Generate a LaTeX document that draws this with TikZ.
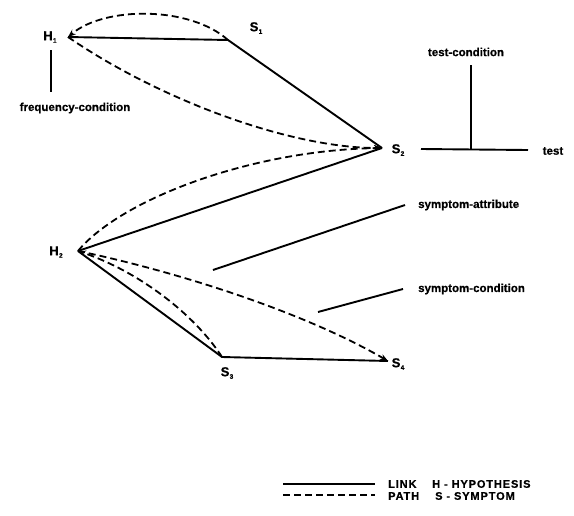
\documentclass[tikz,border=0pt]{standalone}
\usepackage{fontspec}
\setmainfont{Liberation Sans}
\usepackage{tikz}
\usetikzlibrary{arrows.meta}
\newcommand{\vlbl}[2]{\textbf{#1}\kern0.3pt\raisebox{-2.5pt}{\fontsize{6.5}{6}\selectfont\bfseries #2}}

\begin{document}
\begin{tikzpicture}[x=1pt, y=-1pt,
    link/.style={line width=1.9pt},
    path/.style={line width=1.8pt, dash pattern=on 7pt off 4pt},
    tip/.style={-{Stealth[length=8pt,width=6pt]}},
    lbl/.style={font=\fontsize{13}{13}\selectfont\bfseries\addfontfeature{FakeBold=0.6}, inner sep=0pt},
    txt/.style={font=\fontsize{11.5}{12}\selectfont\bfseries\addfontfeature{FakeBold=0.6}, inner sep=0pt},
    key/.style={font=\fontsize{11}{12}\selectfont\bfseries\addfontfeature{LetterSpace=8,FakeBold=0.6}, inner sep=0pt, anchor=west}]
\useasboundingbox (0,0) rectangle (574,515);

% Hypotheses and symptoms
\coordinate (h1) at (68,37);
\coordinate (s1) at (228,40);
\coordinate (s2) at (382,148);
\coordinate (h2) at (78,251);
\coordinate (s3) at (222,357);
\coordinate (s4) at (388,361);

\node[lbl] (h1l) at (50,37) {\vlbl{H}{1}};
\node[lbl] (s1l) at (256,28) {\vlbl{S}{1}};
\node[lbl] (s2l) at (398,150) {\vlbl{S}{2}};
\node[lbl] (h2l) at (56,252) {\vlbl{H}{2}};
\node[lbl] (s3l) at (227,373) {\vlbl{S}{3}};
\node[lbl] (s4l) at (398,364) {\vlbl{S}{4}};

% Links
\draw[link] (h1) -- (s1) -- (s2);
\draw[link] (h2) -- (s2);
\draw[link] (h2) -- (s3) -- (s4);

% Paths
\draw[path, tip] (s1) .. controls (190,6) and (105,6) .. (h1);
\draw[path, tip] (h1) .. controls (160,100) and (290,148) .. (s2);
\draw[path, tip] (h2) .. controls (120,200) and (250,150) .. (s2);
\draw[path, tip] (s3) .. controls (195,315) and (140,272) .. (h2);
\draw[path, tip] (h2) .. controls (170,270) and (300,310) .. (s4);

% Conditions and attributes
\node[txt] (freq) at (75,108) {frequency-condition};
\coordinate (freqtop) at (51,50);
\coordinate (freqbot) at (51,92);
\draw[link] (freqtop) -- (freqbot);

\node[txt] (testcond) at (466,52) {test-condition};
\node[txt] (test) at (553,151) {test};
\coordinate (tl) at (421,149);
\coordinate (tr) at (528,150);
\coordinate (tm) at (471,149);
\coordinate (tt) at (471,65);
\draw[link] (tl) -- (tr);
\draw[link] (tm) -- (tt);

\node[txt, anchor=west] (sattr) at (418,205) {symptom-attribute};
\coordinate (sattrend) at (405,205);
\coordinate (sattrbeg) at (213,270);
\draw[link] (sattrbeg) -- (sattrend);

\node[txt, anchor=west] (scond) at (418,289) {symptom-condition};
\coordinate (scondend) at (403,289);
\coordinate (scondbeg) at (318,312);
\draw[link] (scondbeg) -- (scondend);

% Legend
\coordinate (k1a) at (283,484);
\coordinate (k1b) at (375,484);
\coordinate (k2a) at (283,495);
\coordinate (k2b) at (375,495);
\draw[link] (k1a) -- (k1b);
\draw[path] (k2a) -- (k2b);
\node[key] (klink) at (388,484) {LINK};
\node[key] (kpath) at (388,496) {PATH};
\node[key] (khyp) at (432,484) {H - HYPOTHESIS};
\node[key] (ksym) at (435,496) {S - SYMPTOM};
\end{tikzpicture}
\end{document}
